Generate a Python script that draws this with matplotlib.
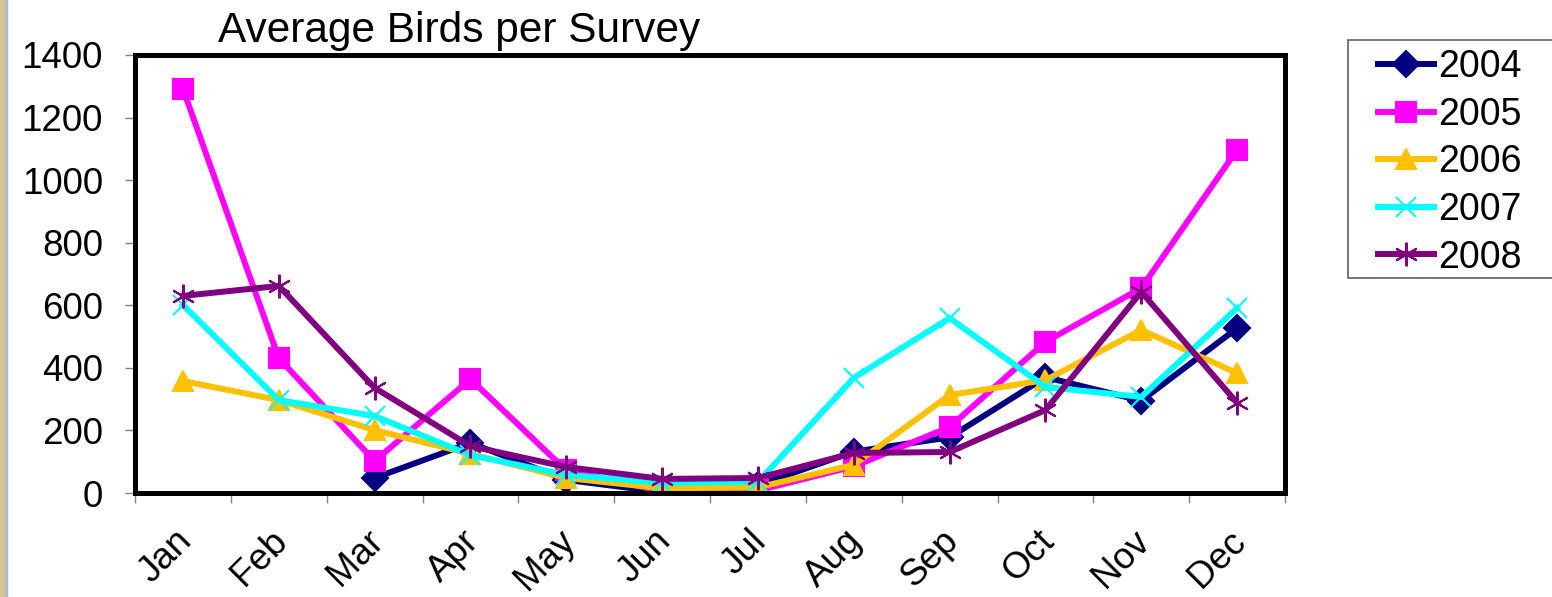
import matplotlib
matplotlib.use("Agg")
import matplotlib.pyplot as plt
import numpy as np
from matplotlib.patches import Rectangle
from matplotlib.transforms import ScaledTranslation

plt.rcParams['font.family'] = ['Liberation Sans', 'DejaVu Sans']

months = ['Jan', 'Feb', 'Mar', 'Apr', 'May', 'Jun', 'Jul', 'Aug', 'Sep', 'Oct', 'Nov', 'Dec']
nan = np.nan
y2004 = [nan, nan, 48, 160, 42, 3, 25, 132, 178, 370, 295, 527]
y2005 = [1292, 431, 102, 364, 72, 6, 8, 85, 211, 483, 655, 1097]
y2006 = [358, 297, 201, 125, 48, 15, 18, 90, 313, 361, 521, 383]
y2007 = [601, 297, 246, 121, 58, 32, 35, 368, 559, 339, 307, 591]
y2008 = [630, 662, 336, 150, 83, 45, 48, 128, 131, 265, 643, 288]

series = [
    ('2004', y2004, '#000080', 'D', 13),
    ('2005', y2005, '#FF00FF', 's', 15),
    ('2006', y2006, '#FFC000', '^', 15),
    ('2007', y2007, '#00FFFF', 'x', 14),
    ('2008', y2008, '#800080', (6, 2, 0), 17),
]

fig = plt.figure(figsize=(15.52, 5.97), dpi=100)
ax = fig.add_axes([0.087, 0.1742, 0.741, 0.7337])

x = np.arange(len(months))
for name, vals, col, mk, ms in series:
    ax.plot(x, vals, color=col, lw=4.3, marker=mk, markersize=ms,
            markeredgewidth=1.5, markerfacecolor=col, markeredgecolor=col,
            label=name, solid_joinstyle='miter')

ax.set_xlim(-0.5, 11.5)
ax.set_ylim(0, 1400)
ax.set_yticks(range(0, 1401, 200))
ax.tick_params(axis='y', labelsize=26.5, length=7, width=1, color='#808080', pad=16)
ax.set_xticks(x)
ax.set_xticklabels(months, rotation=45, ha='right', va='top', rotation_mode='anchor', fontsize=26.5)
ax.tick_params(axis='x', which='major', length=0, pad=22)
shift = ScaledTranslation(-9 / 100, 0, fig.dpi_scale_trans)
for lab in ax.get_xticklabels():
    lab.set_transform(lab.get_transform() + shift)
ax.set_xticks(np.arange(-0.5, 12, 1), minor=True)
ax.tick_params(axis='x', which='minor', length=7, width=1, color='#808080')
for s in ax.spines.values():
    s.set_linewidth(3.6)
    s.set_color('black')

fig.text(0.1405, 0.948, 'Average Birds per Survey', fontsize=30.5, ha='left', va='center')

# legend box drawn separately, it runs off the right edge
fig.patches.append(Rectangle((1348 / 1552, (597 - 278) / 597), 0.2, 238 / 597,
                             transform=fig.transFigure, facecolor='white',
                             edgecolor='#606060', lw=1.2, zorder=1))
leg = fig.legend(loc='upper left', bbox_to_anchor=(1378 / 1552, (597 - 49) / 597), fontsize=27,
                 handlelength=1.5, handletextpad=0.1, borderpad=0, labelspacing=0.31,
                 frameon=False, borderaxespad=0)

# slide edge on the far left
fig.patches.append(Rectangle((0, 0), 5 / 1552, 1, transform=fig.transFigure, color='#D8C48E', zorder=0))
fig.patches.append(Rectangle((5 / 1552, 0), 2 / 1552, 1, transform=fig.transFigure, color='#A9BCC8', zorder=0))

fig.savefig('out.png', dpi=100)
